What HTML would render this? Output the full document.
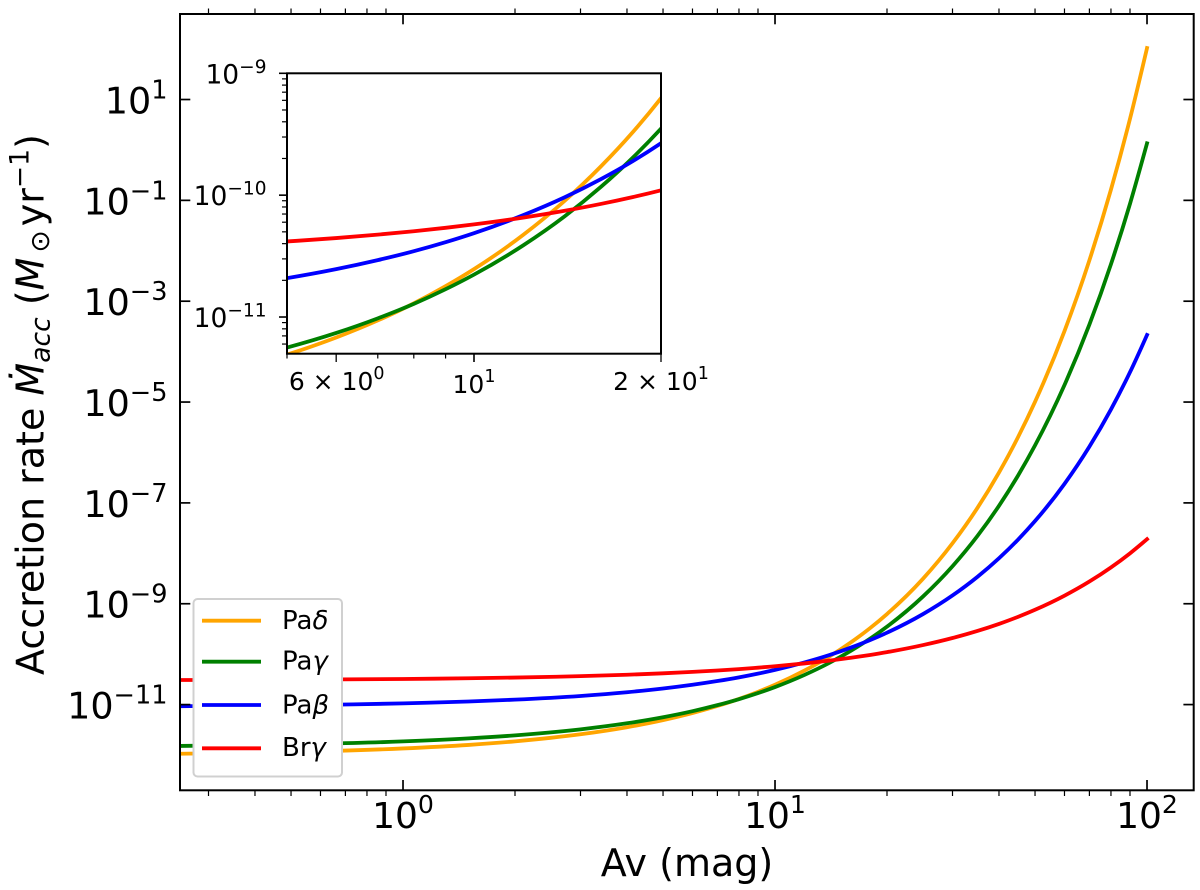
<!DOCTYPE html>
<html>
<head>
<meta charset="utf-8">
<title>Accretion rate vs Av</title>
<style>
html,body{margin:0;padding:0;background:#fff;}
svg{display:block;font-family:"DejaVu Sans","Liberation Sans",sans-serif;}
text{fill:#000;}
</style>
</head>
<body>
<svg id="chart" xmlns="http://www.w3.org/2000/svg" width="1200" height="890" viewBox="0 0 1200 890">
  <defs>
    <clipPath id="main-clip"><rect x="180" y="14" width="1013.7" height="776.3"/></clipPath>
    <clipPath id="inset-clip"><rect x="287" y="73.3" width="374" height="280.4"/></clipPath>
  </defs>
  <rect x="0" y="0" width="1200" height="890" fill="#fff"/>
  <g id="main-lines" clip-path="url(#main-clip)"></g>
  <g id="main-ticks"></g>
  <rect x="180" y="14" width="1013.7" height="776.3" fill="none" stroke="#000" stroke-width="2"/>
  <g id="main-labels"></g>

  <text x="687" y="876" font-size="38" text-anchor="middle">Av (mag)</text>
  <text transform="translate(43.5,675) rotate(-90)" font-size="38">Accretion rate <tspan font-style="italic">Ṁ</tspan><tspan font-style="italic" font-size="26.6" dy="6">acc</tspan><tspan dy="-6"> (</tspan><tspan font-style="italic">M</tspan><tspan font-size="26.6" dx="5" dy="5.5">⊙</tspan><tspan dx="4" dy="-5.5">yr</tspan><tspan font-size="26.6" dy="-15">−1</tspan><tspan dy="15">)</tspan></text>

  <rect x="287" y="73.3" width="374" height="280.4" fill="#fff"/>
  <g id="inset-lines" clip-path="url(#inset-clip)"></g>
  <g id="inset-ticks"></g>
  <rect x="287" y="73.3" width="374" height="280.4" fill="none" stroke="#000" stroke-width="2"/>
  <g id="inset-labels"></g>

  <g>
    <rect x="193.5" y="599" width="148.5" height="177.5" rx="4" ry="4" fill="#fff" stroke="#d0d0d0" stroke-width="2"/>
    <line x1="202" x2="261" y1="620.7" y2="620.7" stroke="#ffa500" stroke-width="3.8"/>
    <text x="282" y="629" font-size="26">Pa<tspan font-style="italic">δ</tspan></text>
    <line x1="202" x2="261" y1="661.7" y2="661.7" stroke="#008000" stroke-width="3.8"/>
    <text x="282" y="669.5" font-size="26">Pa<tspan font-style="italic">γ</tspan></text>
    <line x1="202" x2="261" y1="705" y2="705" stroke="#0000ff" stroke-width="3.8"/>
    <text x="282" y="713.3" font-size="26">Pa<tspan font-style="italic">β</tspan></text>
    <line x1="202" x2="261" y1="748.3" y2="748.3" stroke="#ff0000" stroke-width="3.8"/>
    <text x="282" y="756" font-size="26">Br<tspan font-style="italic">γ</tspan></text>
  </g>
</svg>
<script>
// Extinction samples (mag)
const avValues = [0.25,0.4,0.6,1,1.5,2,3,4,5,6,7,8,9,10,12,14,16,18,20,25,30,35,40,45,50,60,70,80,90,100];
// log10 of accretion rate (Msun/yr)
const paDeltaLogRate = [-11.975,-11.954,-11.926,-11.870,-11.800,-11.729,-11.589,-11.449,-11.309,-11.168,-11.028,-10.888,-10.747,-10.607,-10.326,-10.046,-9.765,-9.485,-9.204,-8.503,-7.801,-7.100,-6.398,-5.697,-4.995,-3.592,-2.189,-0.786,0.617,2.020];
const paGammaLogRate = [-11.820,-11.802,-11.778,-11.730,-11.670,-11.610,-11.491,-11.371,-11.251,-11.131,-11.011,-10.892,-10.772,-10.652,-10.412,-10.173,-9.933,-9.694,-9.454,-8.855,-8.256,-7.657,-7.058,-6.459,-5.860,-4.662,-3.464,-2.266,-1.068,0.130];
const paBetaLogRate = [-11.032,-11.020,-11.006,-10.976,-10.939,-10.902,-10.829,-10.755,-10.681,-10.607,-10.533,-10.460,-10.386,-10.312,-10.164,-10.017,-9.869,-9.722,-9.574,-9.205,-8.836,-8.467,-8.098,-7.729,-7.360,-6.622,-5.884,-5.146,-4.408,-3.670];
const brGammaLogRate = [-10.513,-10.509,-10.503,-10.492,-10.478,-10.464,-10.436,-10.408,-10.380,-10.352,-10.324,-10.296,-10.268,-10.240,-10.184,-10.128,-10.072,-10.016,-9.960,-9.820,-9.680,-9.540,-9.400,-9.260,-9.120,-8.840,-8.560,-8.280,-8.000,-7.720];

// Tick values
const mainXMajorExponents = [0,1,2];
const mainXMinorValues = [0.3,0.4,0.5,0.6,0.7,0.8,0.9,2,3,4,5,6,7,8,9,20,30,40,50,60,70,80,90];
const mainYMajorExponents = [1,-1,-3,-5,-7,-9,-11];
const insetXMinorValues = [5,7,8,9];
const insetYMajorExponents = [-9,-10,-11];
const insetYMinorMultipliers = [2,3,4,5,6,7,8,9];

const NS = 'http://www.w3.org/2000/svg';
function el(tag, parent, attrs){
  const e = document.createElementNS(NS, tag);
  for (const k in attrs) e.setAttribute(k, attrs[k]);
  parent.appendChild(e);
  return e;
}
// Axis scales
const mainLogXMin = -0.5995, mainLogXMax = 2.1255, mainLogYMin = -12.70, mainLogYMax = 2.696;
function mainX(v){ return 180 + (Math.log10(v) - mainLogXMin) / (mainLogXMax - mainLogXMin) * 1013.7; }
function mainY(l){ return 14 + (mainLogYMax - l) / (mainLogYMax - mainLogYMin) * 776.3; }
const insetLogXMin = Math.log10(5), insetLogXMax = Math.log10(20), insetLogYMin = Math.log10(5e-12), insetLogYMax = -9;
function insetX(v){ return 287 + (Math.log10(v) - insetLogXMin) / (insetLogXMax - insetLogXMin) * 374; }
function insetY(l){ return 73.3 + (insetLogYMax - l) / (insetLogYMax - insetLogYMin) * 280.4; }

// Smooth monotone path through the samples, in screen space
function smoothPath(xs, ys, sx, sy){
  const px = xs.map(sx), py = ys.map(sy), n = px.length;
  const h = [], s = [], m = [];
  for (let i = 0; i < n - 1; i++){
    h.push(px[i+1] - px[i]);
    s.push((py[i+1] - py[i]) / h[i]);
  }
  for (let i = 1; i < n - 1; i++){
    const p = (s[i-1] * h[i] + s[i] * h[i-1]) / (h[i-1] + h[i]);
    m[i] = (Math.sign(s[i-1]) + Math.sign(s[i])) * Math.min(Math.abs(s[i-1]), Math.abs(s[i]), 0.5 * Math.abs(p));
  }
  m[0] = (3 * s[0] - m[1]) / 2;
  m[n-1] = (3 * s[n-2] - m[n-2]) / 2;
  let d = 'M' + px[0].toFixed(2) + ',' + py[0].toFixed(2);
  for (let i = 0; i < n - 1; i++){
    const t = h[i] / 3;
    d += 'C' + (px[i] + t).toFixed(2) + ',' + (py[i] + m[i] * t).toFixed(2) + ' ' +
         (px[i+1] - t).toFixed(2) + ',' + (py[i+1] - m[i+1] * t).toFixed(2) + ' ' +
         px[i+1].toFixed(2) + ',' + py[i+1].toFixed(2);
  }
  return d;
}
function powerLabel(parent, x, y, anchor, size, prefix, exponent, raise){
  const t = el('text', parent, {x:x, y:y, 'font-size':size, 'text-anchor':anchor});
  const a = el('tspan', t, {});
  a.textContent = prefix + '10';
  const b = el('tspan', t, {dy:-raise, 'font-size':size*0.7});
  b.textContent = String(exponent).replace('-', '\u2212');
  return t;
}
function tick(parent, x1, y1, x2, y2, w){
  return el('line', parent, {x1:x1, y1:y1, x2:x2, y2:y2, stroke:'#000', 'stroke-width':w});
}

const mainLines = document.getElementById('main-lines');
const insetLines = document.getElementById('inset-lines');
const mainTicks = document.getElementById('main-ticks');
const insetTicks = document.getElementById('inset-ticks');
const mainLabels = document.getElementById('main-labels');
const insetLabels = document.getElementById('inset-labels');

const lineStyle = {fill:'none', 'stroke-width':3.8, 'stroke-linecap':'square', 'stroke-linejoin':'round'};
function series(parent, sx, sy, values, color){
  const attrs = Object.assign({d:smoothPath(avValues, values, sx, sy), stroke:color}, lineStyle);
  return el('path', parent, attrs);
}

let s;
s = series(mainLines, mainX, mainY, paDeltaLogRate, '#ffa500');


s = series(mainLines, mainX, mainY, paGammaLogRate, '#008000');


s = series(mainLines, mainX, mainY, paBetaLogRate, '#0000ff');


s = series(mainLines, mainX, mainY, brGammaLogRate, '#ff0000');



s = series(insetLines, insetX, insetY, paDeltaLogRate, '#ffa500');


s = series(insetLines, insetX, insetY, paGammaLogRate, '#008000');


s = series(insetLines, insetX, insetY, paBetaLogRate, '#0000ff');


s = series(insetLines, insetX, insetY, brGammaLogRate, '#ff0000');



// Main axis ticks: major point inward, x minor point outward, on all sides
mainXMajorExponents.forEach(function(e){
  const x = mainX(Math.pow(10, e));
  const b = tick(mainTicks, x, 790.3, x, 780, 1.7);
  
  
  const t = tick(mainTicks, x, 14, x, 24.3, 1.7);
  
  
  const l = powerLabel(mainLabels, x, 828, 'middle', 36, '', e, 15);
  
  
});
mainXMinorValues.forEach(function(v){
  const x = mainX(v);
  const b = tick(mainTicks, x, 790.3, x, 796, 1.2);
  
  
  const t = tick(mainTicks, x, 14, x, 8.5, 1.2);
  
  
});
mainYMajorExponents.forEach(function(e){
  const y = mainY(e);
  const a = tick(mainTicks, 180, y, 190.3, y, 1.7);
  
  
  const b = tick(mainTicks, 1193.7, y, 1183.4, y, 1.7);
  
  
  const l = powerLabel(mainLabels, 167.5, y + 14, 'end', 36.5, '', e, 15);
  
  
});

// Inset ticks: outward on left and bottom only
const ix6 = insetX(6);
let m;
m = tick(insetTicks, ix6, 353.7, ix6, 362, 1.3);


const ix10 = insetX(10);
m = tick(insetTicks, ix10, 353.7, ix10, 362, 1.6);


const ix20 = insetX(20);
m = tick(insetTicks, ix20, 353.7, ix20, 362, 1.3);


insetXMinorValues.forEach(function(v){
  const x = insetX(v);
  const t = tick(insetTicks, x, 353.7, x, 358.5, 1.2);
  
  
});
insetYMajorExponents.forEach(function(e){
  const y = insetY(e);
  const t = tick(insetTicks, 287, y, 279, y, 1.6);
  
  
  const l = powerLabel(insetLabels, 266.5, y + 10, 'end', 26.5, '', e, 10.5);
  
  
});
[-10,-11,-12].forEach(function(e){
  insetYMinorMultipliers.forEach(function(mult){
    const lv = e + Math.log10(mult);
    if (lv <= insetLogYMin || lv >= insetLogYMax) return;
    const y = insetY(lv);
    const t = tick(insetTicks, 287, y, 282, y, 1.2);
    
    
  });
});
let lab;
lab = powerLabel(insetLabels, ix6 + 0.5, 390, 'middle', 25, '6 \u00d7 ', 0, 11);


lab = powerLabel(insetLabels, ix10, 393, 'middle', 25, '', 1, 11);


lab = powerLabel(insetLabels, ix20, 390, 'middle', 25, '2 \u00d7 ', 1, 11);


</script>
</body>
</html>
